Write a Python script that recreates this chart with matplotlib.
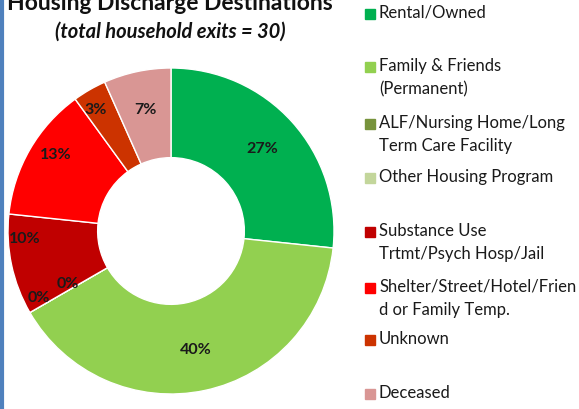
import matplotlib
matplotlib.use("Agg")
import matplotlib.pyplot as plt
import numpy as np

# data
categories = ["Rental/Owned", "Family & Friends\n(Permanent)",
              "ALF/Nursing Home/Long\nTerm Care Facility", "Other Housing Program",
              "Substance Use\nTrtmt/Psych Hosp/Jail",
              "Shelter/Street/Hotel/Frien\nd or Family Temp.", "Unknown", "Deceased"]
exits = [8, 12, 0, 0, 3, 4, 1, 2]
pct_labels = ["27%", "40%", "0%", "0%", "10%", "13%", "3%", "7%"]
colors = ["#00b050", "#92d050", "#77933c", "#c3d69b",
          "#c00000", "#ff0000", "#cc3300", "#d99694"]

plt.rcParams['font.family'] = ['Lato', 'DejaVu Sans']

W, H = 579, 409
fig = plt.figure(figsize=(W / 100, H / 100), dpi=100)

# donut
cx, cy, r = 171, 231, 163
ax = fig.add_axes([(cx - r) / W, (H - cy - r) / H, 2 * r / W, 2 * r / H])
wedges, _ = ax.pie(exits, colors=colors, startangle=90, counterclock=False,
                   radius=1.0, wedgeprops=dict(width=0.55, edgecolor="white", linewidth=1))
ax.set_xlim(-1, 1)
ax.set_ylim(-1, 1)
ax.axis("off")

# percent labels placed along each wedge's middle angle (Excel nudges some)
label_r = [0.75, 0.745, 0.71, 0.91, 0.90, 0.845, 0.877, 0.758]
label_dang = [0, 0, -3, -3, -9, -3.5, 2, 0]
for w, lab, lr, da in zip(wedges, pct_labels, label_r, label_dang):
    ang = np.deg2rad((w.theta1 + w.theta2) / 2 + da)
    ax.text(lr * np.cos(ang), lr * np.sin(ang), lab, ha="center", va="center",
            fontsize=11.5, fontweight="bold", color="#1a1a1a")

# titles
fig.text(170 / W, 1 - 4 / H, "Housing Discharge Destinations", ha="center", va="center",
         fontsize=16.5, fontweight="bold", color="#111111")
fig.text(170 / W, 1 - 32 / H, "(total household exits = 30)", ha="center", va="center",
         fontsize=14.5, fontweight="bold", style="italic", color="#111111")

# legend drawn by hand to keep Excel's uneven spacing
legend_y = [14, 67, 124, 178, 232, 288, 340, 394]
for lab, col, y in zip(categories, colors, legend_y):
    fig.patches.append(plt.Rectangle(((365) / W, 1 - (y + 5) / H), 10 / W, 10 / H,
                                     transform=fig.transFigure, color=col))
    fig.text(379 / W, 1 - (y - 9) / H, lab, ha="left", va="top", fontsize=12,
             color="#1a1a1a", linespacing=1.55)

# blue border on the left edge
fig.add_artist(plt.Line2D([1.5 / W, 1.5 / W], [0, 1], transform=fig.transFigure,
                          color="#4f81bd", linewidth=3))

fig.savefig("out.png", dpi=100)
